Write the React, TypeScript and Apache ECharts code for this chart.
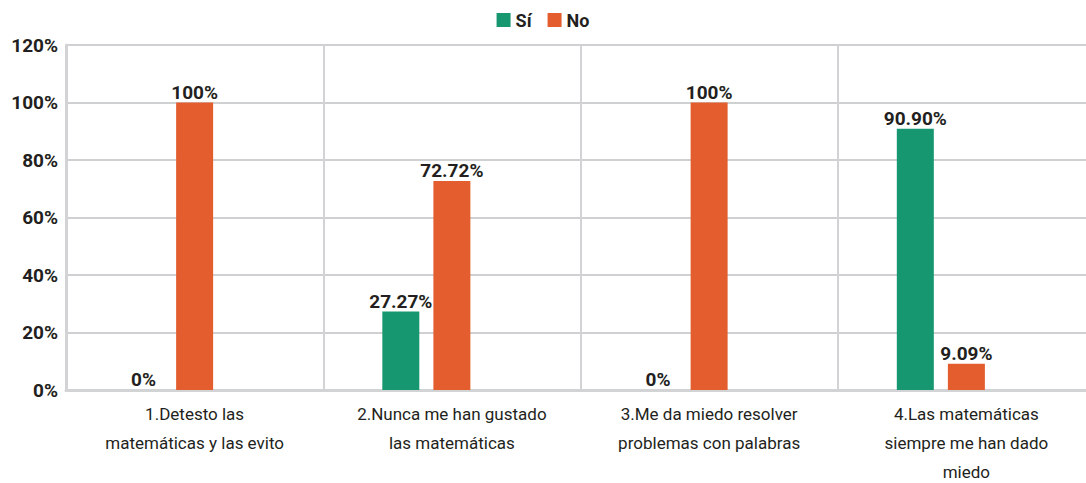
import React, { useEffect, useRef } from "react";
import * as echarts from "echarts";

const categories = [
  "1.Detesto las\nmatemáticas y las evito",
  "2.Nunca me han gustado\nlas matemáticas",
  "3.Me da miedo resolver\nproblemas con palabras",
  "4.Las matemáticas\nsiempre me han dado\nmiedo",
];
const siValues = [0, 27.27, 0, 90.9];
const siLabels = ["0%", "27.27%", "0%", "90.90%"];
const noValues = [100, 72.72, 100, 9.09];
const noLabels = ["100%", "72.72%", "100%", "9.09%"];
const yTicks = ["0%", "20%", "40%", "60%", "80%", "100%", "120%"];

const FONT = "Roboto, 'Liberation Sans', sans-serif";

export default function App() {
  const ref = useRef<HTMLDivElement>(null);
  useEffect(() => {
    if (!ref.current) return;
    const chart = echarts.init(ref.current, undefined, { renderer: "svg" });
    const labelStyle = (labels: string[]) => ({
      show: true,
      position: "top" as const,
      distance: 1,
      fontFamily: FONT,
      fontWeight: "bold" as const,
      fontSize: 19,
      color: "#231f20",
      formatter: (p: any) => labels[p.dataIndex],
    });
    chart.setOption({
      animation: false,
      textStyle: { fontFamily: FONT },
      legend: {
        data: ["Sí", "No"],
        top: 6,
        left: "center",
        itemWidth: 14,
        itemHeight: 14,
        itemGap: 16,
        icon: "rect",
        textStyle: { fontFamily: FONT, fontWeight: "bold", fontSize: 18, color: "#231f20" },
      },
      grid: {
        left: 66,
        top: 45,
        width: 1029,
        height: 345,
        containLabel: false,
        outerBoundsMode: "none",
      },
      xAxis: {
        type: "category",
        data: categories,
        boundaryGap: true,
        axisLine: { show: true, lineStyle: { color: "#d2d3d5", width: 3 } },
        axisTick: { show: false },
        splitLine: { show: true, lineStyle: { color: "#d2d3d5", width: 2 } },
        axisLabel: {
          fontFamily: FONT,
          fontSize: 17,
          color: "#231f20",
          lineHeight: 29,
          margin: 9,
          interval: 0,
        },
      },
      yAxis: {
        type: "value",
        min: 0,
        max: 120,
        interval: 20,
        axisLine: { show: true, lineStyle: { color: "#d2d3d5", width: 3 } },
        axisTick: { show: false },
        splitLine: { show: true, lineStyle: { color: "#cfd0d2", width: 2 } },
        axisLabel: {
          fontFamily: FONT,
          fontWeight: "bold",
          fontSize: 19,
          color: "#231f20",
          margin: 8,
          formatter: (v: number) => yTicks[Math.round(v / 20)],
        },
      },
      series: [
        {
          name: "Sí",
          type: "bar",
          data: siValues,
          barWidth: 37,
          barGap: "38%",
          itemStyle: { color: "#17976f" },
          label: labelStyle(siLabels),
        },
        {
          name: "No",
          type: "bar",
          data: noValues,
          barWidth: 37,
          itemStyle: { color: "#e35d2f" },
          label: labelStyle(noLabels),
        },
        {
          name: "",
          type: "bar",
          data: ["-", "-", "-", "-"],
          barWidth: 37,
          itemStyle: { color: "#a5a5a5" },
        },
      ],
    });
    return () => chart.dispose();
  }, []);
  return (
    <div
      ref={ref}
      style={{ position: "absolute", left: 0, top: 0, width: 1086, height: 483, background: "#fff" }}
    />
  );
}
